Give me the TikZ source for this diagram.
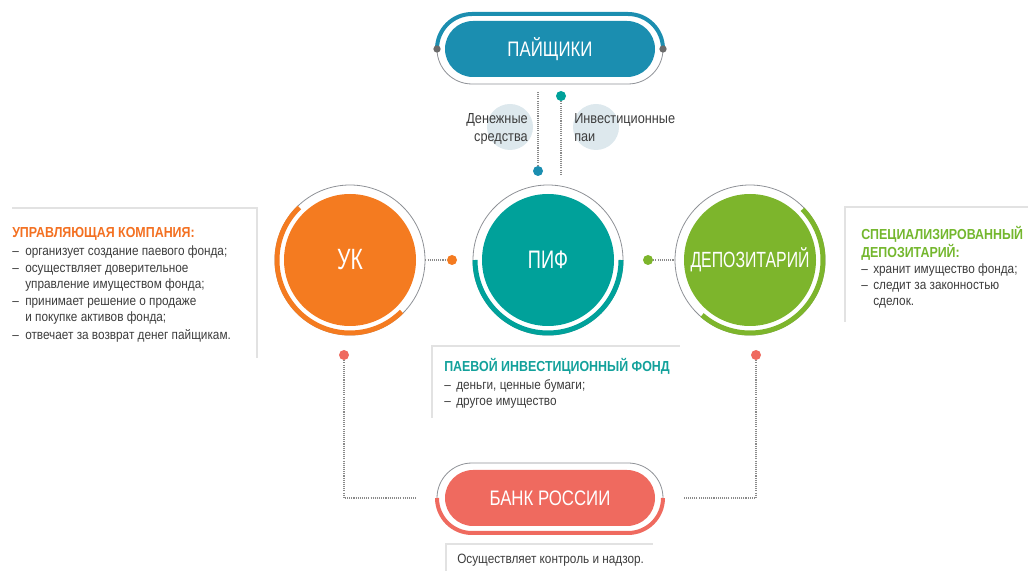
\documentclass[tikz,border=0pt]{standalone}
\usepackage{fontspec}
\setmainfont{Liberation Sans}[FakeStretch=0.875]
\newfontfamily\headfont{Liberation Sans}[FakeStretch=0.855]
\newfontfamily\circfont{Liberation Sans}[FakeStretch=0.72]
\newfontfamily\pillfont{Liberation Sans}[FakeStretch=0.8]
\definecolor{paiblue}{HTML}{1B8EB0}
\definecolor{pifteal}{HTML}{00A19A}
\definecolor{ukor}{HTML}{F47B20}
\definecolor{depgreen}{HTML}{7DB52C}
\definecolor{bankred}{HTML}{EF6A5F}
\definecolor{ringgray}{HTML}{8E9196}
\definecolor{dotgray}{HTML}{8A8A8A}
\definecolor{dotdark}{HTML}{6B6B6B}
\definecolor{labelbg}{HTML}{DDE8ED}
\definecolor{bodytext}{HTML}{3C3C3C}
\definecolor{boxgray}{HTML}{E2E2E2}
\definecolor{headorange}{HTML}{F37021}
\definecolor{headgreen}{HTML}{74B72E}
\definecolor{headteal}{HTML}{13A19B}
\begin{document}
\begin{tikzpicture}[x=0.75pt,y=0.75pt,
  dotline/.style={draw=dotgray, line width=0.8pt, dash pattern=on 0.8pt off 0.8pt},
  ringnode/.style={circle, draw=ringgray, line width=0.6pt, minimum size=112.5pt, inner sep=0},
  bigc/.style={circle, minimum size=99pt, inner sep=0, text=white},
  pill/.style={rectangle, rounded corners=21pt, minimum width=157.5pt, minimum height=42pt, inner sep=0, text=white, font=\pillfont\fontsize{15.75}{18}\selectfont},
  bigdot/.style={circle, inner sep=0, minimum size=7.5pt},
  smalldot/.style={circle, inner sep=0, minimum size=5.5pt, fill=dotdark},
  txt/.style={anchor=base west, inner sep=0, text=bodytext, font=\fontsize{10.1}{12}\selectfont},
  lbl/.style={inner sep=0, text=bodytext, font=\fontsize{10.9}{13}\selectfont},
  head/.style={anchor=base west, inner sep=0, font=\headfont\bfseries\fontsize{10.9}{13}\selectfont},
  boxline/.style={draw=boxgray, line width=1.2pt},
  thickarc/.style={line width=3.75pt},
  pillarc/.style={line width=3pt},
  thinring/.style={draw=ringgray, line width=0.6pt}]
\useasboundingbox (0,0) rectangle (1028,571);

% ---------- ПАЙЩИКИ ----------
\draw[thinring] (437,522) arc[start angle=180,end angle=270,radius=35] -- (628,487) arc[start angle=270,end angle=360,radius=35];
\draw[paiblue, pillarc] (437,522) arc[start angle=180,end angle=90,radius=35] -- (628,557) arc[start angle=90,end angle=0,radius=35];
\node[pill, fill=paiblue] (pai) at (550,522) {ПАЙЩИКИ};
\node[smalldot] (pail) at (437,522) {};
\node[smalldot] (pair) at (663,522) {};

% ---------- labels ----------
\node[circle, fill=labelbg, minimum size=34.5pt, inner sep=0] (lc1) at (510,444) {};
\node[circle, fill=labelbg, minimum size=34.5pt, inner sep=0] (lc2) at (596,444) {};
\node[lbl, anchor=base east] (l1a) at (528,447) {Денежные};
\node[lbl, anchor=base east] (l1b) at (528,429) {средства};
\node[lbl, anchor=base west] (l2a) at (574,447) {Инвестиционные};
\node[lbl, anchor=base west] (l2b) at (574,429) {паи};

% ---------- vertical connectors ----------
\coordinate (v1top) at (538,479);
\node[bigdot, fill=paiblue] (v1dot) at (538,400) {};
\draw[dotline] (v1top) -- (v1dot);
\node[bigdot, fill=pifteal] (v2dot) at (561,475) {};
\coordinate (v2bot) at (561,396);
\draw[dotline] (v2dot) -- (v2bot);

% ---------- УК ----------
\node[ringnode] (ukr) at (350,311) {};
\draw[ukor, thickarc] (ukr.center) ++(134:73) arc[start angle=134, end angle=315, radius=73];
\node[bigc, fill=ukor, font=\circfont\fontsize{22}{24}\selectfont] (uk) at (350,311) {УК};

% ---------- ПИФ ----------
\node[ringnode] (pifr) at (548,311) {};
\draw[pifteal, thickarc] (pifr.center) ++(180:73) arc[start angle=180, end angle=360, radius=73];
\node[bigc, fill=pifteal, font=\circfont\fontsize{19}{22}\selectfont] (pif) at (548,311) {ПИФ};

% ---------- ДЕПОЗИТАРИЙ ----------
\node[ringnode] (depr) at (750,311) {};
\draw[depgreen, thickarc] (depr.center) ++(44:73) arc[start angle=44, end angle=-131, radius=73];
\node[bigc, fill=depgreen, font=\circfont\fontsize{16.5}{20}\selectfont] (dep) at (750,311) {ДЕПОЗИТАРИЙ};

% ---------- side connectors ----------
\node[bigdot, fill=ukor] (ukdot) at (452,311) {};
\draw[dotline] (ukr.east) -- (ukdot);
\node[bigdot, fill=depgreen] (depdot) at (648,311) {};
\draw[dotline] (depdot) -- (depr.west);

% ---------- БАНК РОССИИ ----------
\draw[thinring] (437,73) arc[start angle=180,end angle=90,radius=35] -- (628,108) arc[start angle=90,end angle=0,radius=35];
\draw[bankred, pillarc] (437,73) arc[start angle=180,end angle=270,radius=35] -- (628,38) arc[start angle=270,end angle=360,radius=35];
\node[pill, fill=bankred] (bank) at (550,73) {БАНК РОССИИ};

\node[bigdot, fill=bankred] (rd1) at (344,216) {};
\node[bigdot, fill=bankred] (rd2) at (756,216) {};
\coordinate (bl) at (417,73);
\coordinate (br) at (683,73);
\draw[dotline] (rd1) |- (bl);
\draw[dotline] (rd2) |- (br);

% ---------- text boxes ----------
\draw[boxline] (12,363) -- (257,363) -- (257,213);
\node[head, text=headorange] (ukh) at (12,333) {УПРАВЛЯЮЩАЯ КОМПАНИЯ:};
\node[txt] (ukd1) at (12,315.5) {–};
\node[txt] (ukt1) at (25,315.5) {организует создание паевого фонда;};
\node[txt] (ukd2) at (12,298.5) {–};
\node[txt] (ukt2) at (25,298.5) {осуществляет доверительное};
\node[txt] (ukt3) at (25,282) {управление имуществом фонда;};
\node[txt] (ukd4) at (12,265.5) {–};
\node[txt] (ukt4) at (25,265.5) {принимает решение о продаже};
\node[txt] (ukt5) at (25,249) {и покупке активов фонда;};
\node[txt] (ukd6) at (12,231.5) {–};
\node[txt] (ukt6) at (25,231.5) {отвечает за возврат денег пайщикам.};

\draw[boxline] (1028,364) -- (845,364) -- (845,249);
\node[head, text=headgreen] (deph1) at (861,331) {СПЕЦИАЛИЗИРОВАННЫЙ};
\node[head, text=headgreen] (deph2) at (861,313) {ДЕПОЗИТАРИЙ:};
\node[txt] (depd1) at (861,297.5) {–};
\node[txt] (dept1) at (873,297.5) {хранит имущество фонда;};
\node[txt] (depd2) at (861,281.5) {–};
\node[txt] (dept2) at (873,281.5) {следит за законностью};
\node[txt] (dept3) at (873,265.5) {сделок.};

\draw[boxline] (680,225) -- (432,225) -- (432,153);
\node[head, text=headteal] (pifh) at (444,199.5) {ПАЕВОЙ ИНВЕСТИЦИОННЫЙ ФОНД};
\node[txt] (pifd1) at (444,181) {–};
\node[txt] (pift1) at (456,181) {деньги, ценные бумаги;};
\node[txt] (pifd2) at (444,165.5) {–};
\node[txt] (pift2) at (456,165.5) {другое имущество};

\draw[boxline] (653,27) -- (446,27) -- (446,0);
\node[txt] (bankt) at (457,7.5) {Осуществляет контроль и надзор.};
\end{tikzpicture}
\end{document}
